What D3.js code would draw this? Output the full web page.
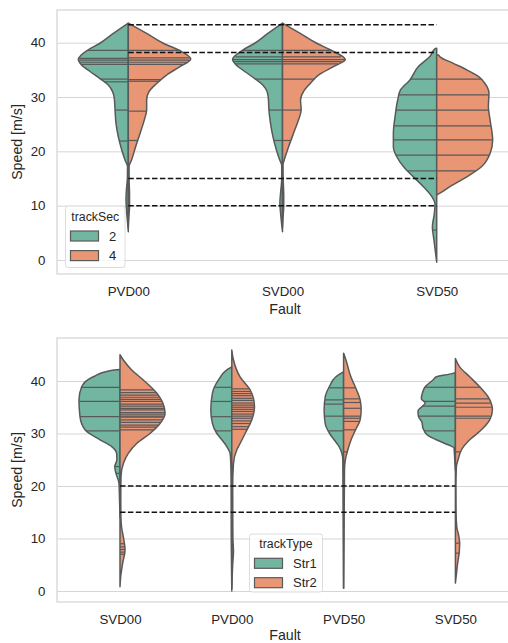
<!DOCTYPE html>
<html><head><meta charset="utf-8">
<script src="https://cdn.jsdelivr.net/npm/d3@7"></script>
<style>
body{margin:0;background:#fff}
svg{display:block}
text{font-family:"Liberation Sans",Arial,sans-serif;fill:#262626}
</style>
</head><body>
<svg id="c" width="508" height="643"></svg>
<script>
// ---------------- DATA ----------------
const yTicks = [0, 10, 20, 30, 40];

// Top panel: Fault x trackSec
const topCategories = ["PVD00", "SVD00", "SVD50"];
const topHues = ["2", "4"];
// violin half profiles: [speed, half-width in category units]
const topPVD00Sec2 = [[43.6,0],[41.7,.097],[39.9,.184],[38.7,.259],[36.9,.324],[35.9,.303],[34.7,.248],[33.4,.184],[32.2,.130],[31.0,.102],[29.8,.091],[27.6,.086],[25.2,.080],[22.7,.065],[20.3,.043],[18.4,.021],[17.2,.005],[15.0,.006],[13.0,.012],[11.0,.015],[9.0,.011],[7.0,.005],[5.2,0]];
const topPVD00Sec4 = [[43.6,0],[41.7,.119],[39.9,.227],[38.4,.344],[37.0,.405],[35.6,.335],[34.05,.248],[32.5,.184],[31.0,.134],[29.45,.119],[27.6,.119],[25.8,.104],[23.3,.076],[20.8,.047],[18.4,.021],[17.2,.005],[15.0,.005],[12.0,.008],[10.0,.008],[8.0,.004],[6.0,0]];
const topSVD00Sec2 = [[43.6,0],[41.7,.095],[39.9,.180],[38.7,.255],[36.9,.324],[35.9,.300],[34.7,.245],[33.4,.180],[32.2,.128],[31.0,.100],[29.8,.092],[27.6,.088],[25.2,.078],[22.7,.062],[20.3,.040],[18.4,.018],[17.4,.005],[15.0,.005],[12.5,.012],[10.5,.017],[8.5,.012],[6.5,.005],[5.2,0]];
const topSVD00Sec4 = [[43.6,0],[41.7,.115],[39.9,.222],[38.7,.309],[36.9,.407],[35.6,.331],[34.05,.233],[32.5,.180],[31.0,.136],[29.45,.117],[27.6,.121],[25.8,.104],[23.3,.071],[20.8,.039],[18.4,.011],[17.5,.003],[15.0,.004],[12.0,.008],[10.0,.008],[8.0,.004],[6.0,0]];
const topSVD50Sec2 = [[39.0,0],[38.9,.010],[37.5,.043],[35.6,.119],[33.1,.175],[31.3,.235],[29.45,.253],[26.4,.270],[23.3,.281],[20.8,.281],[19.0,.259],[17.2,.216],[15.3,.151],[13.5,.086],[11.6,.030],[10.4,.011],[8.6,.015],[6.1,.028],[3.7,.018],[-0.4,0]];
const topSVD50Sec4 = [[37.8,0],[37.7,.012],[37.4,.021],[36.2,.108],[35.0,.195],[33.8,.270],[32.5,.313],[30.7,.339],[28.2,.335],[25.8,.346],[22.1,.363],[19.6,.346],[17.2,.292],[15.3,.195],[13.5,.086],[12.3,.021],[12.0,0]];
// individual observations (inner="stick")
const topPVD00Sec2Sticks = [38.6,37.1,36.8,36.4,36.0,33.3,32.8,27.6,21.9];
const topPVD00Sec4Sticks = [38.6,37.2,36.8,36.4,36.0,33.2,32.9,27.4,22.0];
const topSVD00Sec2Sticks = [38.6,37.4,36.9,36.5,36.1,33.3,27.6,22.0];
const topSVD00Sec4Sticks = [38.6,37.4,36.9,36.5,36.1,33.3,27.6,22.0];
const topSVD50Sec2Sticks = [33.3,30.4,27.6,24.7,22.1,19.3,16.4,5.5];
const topSVD50Sec4Sticks = [33.3,30.4,27.6,24.7,22.1,19.3,16.4];
const topRefSpeeds = [43.3, 38.2, 15, 10];

// Bottom panel: Fault x trackType
const botCategories = ["SVD00", "PVD00", "PVD50", "SVD50"];
const botHues = ["Str1", "Str2"];
const botSVD00Str1 = [[42.2,0],[42.0,.08],[40.8,.239],[38.9,.343],[36.4,.367],[33.2,.358],[30.7,.313],[28.8,.179],[27.5,.074],[26.2,.030],[25.0,.028],[23.7,.047],[22.4,.036],[20.5,.009],[18.0,.005],[14.0,0]];
const botSVD00Str2 = [[45.0,0],[44.0,.030],[42.1,.105],[40.2,.208],[37.7,.328],[35.1,.394],[33.8,.403],[31.9,.358],[30.0,.268],[28.1,.149],[26.2,.074],[24.3,.030],[21.8,.009],[18.0,.007],[14.2,.008],[12.0,.015],[10.3,.030],[7.8,.045],[5.3,.024],[2.7,.006],[0.8,0]];
const botPVD00Str1 = [[42.7,0],[42.1,.045],[40.2,.119],[37.7,.173],[34.5,.188],[31.9,.173],[30.0,.134],[28.8,.089],[27.5,.045],[26.2,.015],[24.3,.009],[20.0,.006],[10.0,.005],[0.5,0]];
const botPVD00Str2 = [[45.9,0],[44.0,.015],[40.8,.074],[38.3,.164],[35.1,.203],[32.6,.179],[30.0,.119],[28.1,.074],[26.9,.045],[24.3,.015],[20.0,.008],[10.0,.010],[7.5,.015],[5.0,.008],[0.0,0]];
const botPVD50Str1 = [[41.8,0],[40.8,.069],[38.9,.128],[37.0,.164],[34.5,.174],[31.9,.165],[30.0,.125],[28.8,.085],[27.5,.040],[26.2,.015],[25.0,.007],[15.0,.004],[0.5,0]];
const botPVD50Str2 = [[45.3,0],[44.0,.021],[40.8,.065],[38.3,.116],[36.4,.148],[34.5,.157],[32.6,.148],[30.7,.107],[28.8,.067],[26.9,.038],[25.0,.016],[23.0,.008],[10.0,.004],[0.5,0]];
const botSVD50Str1 = [[41.6,0],[41.4,.03],[40.8,.17],[40.2,.20],[38.9,.27],[37.7,.295],[36.6,.305],[35.8,.27],[35.1,.30],[34.3,.335],[33.2,.33],[32.2,.30],[31.0,.29],[29.7,.25],[28.8,.17],[27.8,.06],[27.2,.012],[25.0,.006],[23.0,0]];
const botSVD50Str2 = [[44.3,0],[42.7,.038],[40.8,.128],[38.9,.217],[37.0,.292],[34.5,.331],[32.6,.307],[30.7,.233],[28.8,.128],[26.9,.054],[25.0,.024],[23.7,.009],[20.0,.005],[15.0,.006],[12.2,.012],[10.5,.030],[9.1,.038],[7.5,.035],[5.3,.020],[3.0,.008],[1.5,0]];
const botSVD00Str1Sticks = [38.8,36.1,33.2,30.5,23.7,22.4];
const botSVD00Str2Sticks = [38.3,37.8,37.3,36.9,36.5,36.1,35.6,35.2,34.8,34.5,34.0,33.7,33.3,33.1,32.6,32.1,31.6,31.2,30.7,9.0,8.4,7.9,7.4,7.0];
const botPVD00Str1Sticks = [38.8,36.1,33.2,30.5];
const botPVD00Str2Sticks = [38.5,38.0,37.6,37.2,36.7,36.3,35.8,35.4,35.0,34.6,34.2,33.7,33.3,32.9,32.4,31.9,31.3,30.8,8.5,7.8,7.2];
const botPVD50Str1Sticks = [38.7,36.4,35.6,33.3,30.5];
const botPVD50Str2Sticks = [38.7,36.6,35.9,34.8,33.3,32.9,32.3,30.7,26.5];
const botSVD50Str1Sticks = [38.8,36.1,35.2,33.3,30.5];
const botSVD50Str2Sticks = [38.8,36.6,35.8,35.0,33.3,32.9,26.5,9.1,7.2];
const botRefSpeeds = [20, 15];

// ---------------- STYLE / LAYOUT ----------------
const hueColors = ["#72b6a1", "#e99675"];
const gray = "#595959";
const gridColor = "#d5d5d5";
const tickFs = 13.3, labelFs = 14.2, legTitleFs = 12.3, legFs = 13;

const panels = [
  {
    cats: topCategories, hues: topHues, legendTitle: "trackSec",
    shapes: [[topPVD00Sec2, topPVD00Sec4],[topSVD00Sec2, topSVD00Sec4],[topSVD50Sec2, topSVD50Sec4]],
    sticks: [[topPVD00Sec2Sticks, topPVD00Sec4Sticks],[topSVD00Sec2Sticks, topSVD00Sec4Sticks],[topSVD50Sec2Sticks, topSVD50Sec4Sticks]],
    refs: topRefSpeeds,
    box: {l: 57, r: 513, t: 10, b: 274}, yDomain: [-2.58, 46.02], centers: [128.3, 436.7],
    labelDy: 40,
    legend: {x: 65.5, y: 206, w: 59.5, h: 61.5, titleDy: 14.8, rowDy: 25, rowGap: 19.6}
  },
  {
    cats: botCategories, hues: botHues, legendTitle: "trackType",
    shapes: [[botSVD00Str1, botSVD00Str2],[botPVD00Str1, botPVD00Str2],[botPVD50Str1, botPVD50Str2],[botSVD50Str1, botSVD50Str2]],
    sticks: [[botSVD00Str1Sticks, botSVD00Str2Sticks],[botPVD00Str1Sticks, botPVD00Str2Sticks],[botPVD50Str1Sticks, botPVD50Str2Sticks],[botSVD50Str1Sticks, botSVD50Str2Sticks]],
    refs: botRefSpeeds,
    box: {l: 57, r: 513, t: 338, b: 602}, yDomain: [-2.1, 48.19], centers: [120, 455.4],
    labelDy: 38,
    legend: {x: 249.5, y: 534, w: 73, h: 58, titleDy: 14, rowDy: 24.3, rowGap: 19.4}
  }
];

const svg = d3.select("#c");

panels.forEach(p => {
  const B = p.box;
  const y = d3.scaleLinear().domain(p.yDomain).range([B.b, B.t]);
  const x = d3.scaleLinear().domain([0, p.cats.length - 1]).range(p.centers);
  const g = svg.append("g");

  // grid + y tick labels
  const ya = g.append("g").attr("transform", `translate(${B.l},0)`)
    .call(d3.axisLeft(y).tickValues(yTicks).tickSize(-(B.r - B.l)).tickPadding(11.5));
  ya.select(".domain").remove();
  ya.selectAll("line").attr("stroke", gridColor).attr("stroke-width", 1);
  ya.selectAll("text").style("font-size", tickFs + "px").attr("fill", "#262626")
    .style("font-family", '"Liberation Sans",Arial,sans-serif');

  // x tick labels
  const xa = g.append("g").attr("transform", `translate(0,${B.b})`)
    .call(d3.axisBottom(x).tickValues(d3.range(p.cats.length)).tickFormat(i => p.cats[i]).tickSize(0).tickPadding(13));
  xa.select(".domain").remove();
  xa.selectAll("text").style("font-size", tickFs + "px").attr("fill", "#262626")
    .style("font-family", '"Liberation Sans",Arial,sans-serif');

  // frame
  g.append("rect").attr("x", B.l).attr("y", B.t).attr("width", B.r - B.l).attr("height", B.b - B.t)
    .attr("fill", "none").attr("stroke", gridColor).attr("stroke-width", 1.25);

  // violins
  p.cats.forEach((cat, i) => {
    p.hues.forEach((h, j) => {
      const prof = p.shapes[i][j];
      const sgn = j === 0 ? -1 : 1;
      const area = d3.area().curve(d3.curveMonotoneY)
        .y(d => y(d[0]))
        .x0(x(i))
        .x1(d => x(i + sgn * d[1]));
      g.append("path").datum(prof).attr("d", area)
        .attr("fill", hueColors[j]).attr("stroke", gray).attr("stroke-width", 1.5)
        .attr("stroke-linejoin", "round");
      const asc = prof.slice().sort((a, b) => a[0] - b[0]);
      const wAt = d3.scaleLinear().domain(asc.map(d => d[0])).range(asc.map(d => d[1])).clamp(true);
      g.selectAll(null).data(p.sticks[i][j]).enter().append("line")
        .attr("x1", x(i)).attr("x2", v => x(i + sgn * wAt(v)))
        .attr("y1", v => y(v)).attr("y2", v => y(v))
        .attr("stroke", gray).attr("stroke-width", 1.2);
    });
  });

  // reference dashed lines
  g.selectAll(null).data(p.refs).enter().append("line")
    .attr("x1", x(0)).attr("x2", x(p.cats.length - 1))
    .attr("y1", v => y(v)).attr("y2", v => y(v))
    .attr("stroke", "#111").attr("stroke-width", 1.5).attr("stroke-dasharray", "5.5,2.4");

  // axis titles
  g.append("text").attr("x", (B.l + B.r) / 2).attr("y", B.b + p.labelDy)
    .attr("text-anchor", "middle").style("font-size", labelFs + "px").text("Fault");
  g.append("text").attr("transform", `translate(21.5,${(B.t + B.b) / 2}) rotate(-90)`)
    .attr("text-anchor", "middle").style("font-size", labelFs + "px").text("Speed [m/s]");

  // legend
  const L = p.legend;
  const lg = g.append("g");
  lg.append("rect").attr("x", L.x).attr("y", L.y).attr("width", L.w).attr("height", L.h)
    .attr("rx", 2.5).attr("fill", "rgba(255,255,255,0.8)").attr("stroke", "#dcdcdc").attr("stroke-width", 1);
  lg.append("text").attr("x", L.x + L.w / 2).attr("y", L.y + L.titleDy).attr("text-anchor", "middle")
    .style("font-size", legTitleFs + "px").text(p.legendTitle);
  p.hues.forEach((h, j) => {
    const yy = L.y + L.rowDy + j * L.rowGap;
    lg.append("rect").attr("x", L.x + 5).attr("y", yy).attr("width", 28).attr("height", 10)
      .attr("fill", hueColors[j]).attr("stroke", gray).attr("stroke-width", 1.2);
    lg.append("text").attr("x", L.x + 43.5).attr("y", yy + 9.6).style("font-size", legFs + "px").text(h);
  });
});
</script>
</body></html>
